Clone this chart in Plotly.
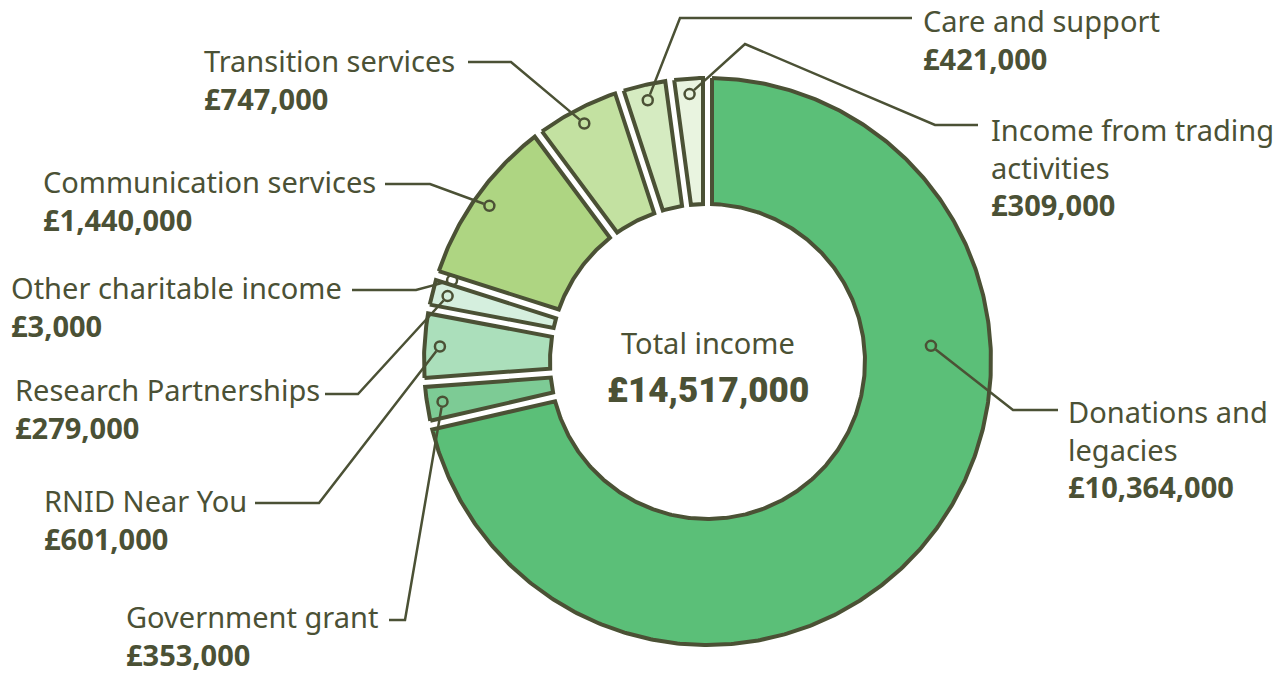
import math
import plotly.graph_objects as go

# ---------------- data ----------------
categories = ["Donations and legacies", "Government grant", "RNID Near You",
              "Research Partnerships", "Other charitable income",
              "Communication services", "Transition services",
              "Care and support", "Income from trading activities"]
values = [10364000, 353000, 601000, 279000, 3000, 1440000, 747000, 421000, 309000]
label_lines = [["Donations and", "legacies"], ["Government grant"], ["RNID Near You"],
               ["Research Partnerships"], ["Other charitable income"],
               ["Communication services"], ["Transition services"],
               ["Care and support"], ["Income from trading", "activities"]]
center_title = "Total income"

# ---------------- style / layout ----------------
colors = ["#5bbf78", "#7dcb95", "#abdfbb", "#d5efde", "#d5efde",
          "#aed582", "#c3e1a1", "#d5ebc1", "#e9f4e0"]
DARK = "#4b5135"
W, H = 1285, 675
CX, CY = 707.5, 361.5
R_OUT, R_IN = 283.5, 157.5
HALF_GAP = 4.5
DOT_R = 268
DOT_SIZE = 10
# label block positions (left x, first-line y) and leader elbows (pixel layout)
label_x = [1067, 125, 43, 14, 10, 42, 203, 922, 990]
label_y = [414, 618, 502, 391, 289, 183, 62, 22, 132]
leader_pts = [
    [(1013, 410), (1058, 410)],
    [(405, 620), (389, 620)],
    [(319, 503), (255, 503)],
    [(358, 394), (325, 394)],
    [(416, 290), (352, 290)],
    [(430, 184), (385, 184)],
    [(511, 62), (468, 62)],
    [(680, 18), (912, 18)],
    [(745, 44), (935, 125), (978, 125)],
]
anchor_override = {0: (86.0, 224.0)}  # (angle deg, radius) for the large slice
LINE_STEP = 35
FONT = "Noto Sans, Open Sans, sans-serif"
LABEL_SIZE = 29


def pt(angle_deg, r):
    a = math.radians(angle_deg)
    return CX + r * math.sin(a), CY - r * math.cos(a)


total = sum(values)
fig = go.Figure()

# slices
start = 0.0
mids = []
for i, v in enumerate(values):
    span = 360.0 * v / total
    a0, a1 = start, start + span
    mids.append((a0 + a1) / 2)
    start = a1
    d_out = math.degrees(math.asin(HALF_GAP / R_OUT))
    d_in = math.degrees(math.asin(HALF_GAP / R_IN))
    if a1 - a0 <= 2 * d_in:
        continue  # collapses under the padding
    n = max(4, int((a1 - a0) * 2))
    xs, ys = [], []
    for k in range(n + 1):
        ang = (a0 + d_out) + (a1 - a0 - 2 * d_out) * k / n
        x, y = pt(ang, R_OUT)
        xs.append(x); ys.append(y)
    for k in range(n + 1):
        ang = (a1 - d_in) - (a1 - a0 - 2 * d_in) * k / n
        x, y = pt(ang, R_IN)
        xs.append(x); ys.append(y)
    xs.append(xs[0]); ys.append(ys[0])
    fig.add_trace(go.Scatter(x=xs, y=ys, mode="lines", fill="toself",
                             fillcolor=colors[i],
                             line=dict(color=DARK, width=4),
                             hoverinfo="skip", showlegend=False))

# leader lines, dots and labels
dot_x, dot_y = [], []
for i, name in enumerate(categories):
    ang, rad = anchor_override.get(i, (mids[i], DOT_R))
    px, py = pt(ang, rad)
    dot_x.append(px); dot_y.append(py)
    pts = leader_pts[i]
    fx, fy = pts[0]
    L = math.hypot(fx - px, fy - py)
    sx = px + (fx - px) / L * (DOT_SIZE / 2 + 1)
    sy = py + (fy - py) / L * (DOT_SIZE / 2 + 1)
    lx = [sx] + [p[0] for p in pts]
    ly = [sy] + [p[1] for p in pts]
    fig.add_trace(go.Scatter(x=lx, y=ly, mode="lines",
                             line=dict(color=DARK, width=2.5),
                             hoverinfo="skip", showlegend=False))
    lines = label_lines[i] + ["<b>£{:,}</b>".format(values[i])]
    block_mid = label_y[i] + (len(lines) - 1) * LINE_STEP / 2
    fig.add_annotation(x=label_x[i], y=block_mid, text="<br>".join(lines),
                       xanchor="left", yanchor="middle", align="left",
                       showarrow=False, borderpad=0,
                       font=dict(family=FONT, size=LABEL_SIZE, color=DARK))

fig.add_trace(go.Scatter(x=dot_x, y=dot_y, mode="markers",
                         marker=dict(symbol="circle-open", size=DOT_SIZE,
                                     color=DARK, line=dict(width=2.5, color=DARK)),
                         hoverinfo="skip", showlegend=False))

# centre text
fig.add_annotation(x=CX, y=CY - 19, text=center_title, showarrow=False,
                   xanchor="center", yanchor="middle",
                   font=dict(family=FONT, size=29, color=DARK))
fig.add_annotation(x=CX, y=CY + 29, text="£{:,}".format(total), showarrow=False,
                   xanchor="center", yanchor="middle",
                   font=dict(family="Roboto, Noto Sans, sans-serif", weight=900,
                             size=35, color=DARK))

fig.update_layout(
    width=W, height=H,
    margin=dict(l=0, r=0, t=0, b=0),
    paper_bgcolor="white", plot_bgcolor="white",
    xaxis=dict(range=[0, W], visible=False, fixedrange=True),
    yaxis=dict(range=[H, 0], visible=False, fixedrange=True),
    showlegend=False, hovermode=False,
)

fig.write_html("out.html", config={"displayModeBar": False},
               post_script="document.body.style.margin='0px';document.body.style.padding='0px';")
